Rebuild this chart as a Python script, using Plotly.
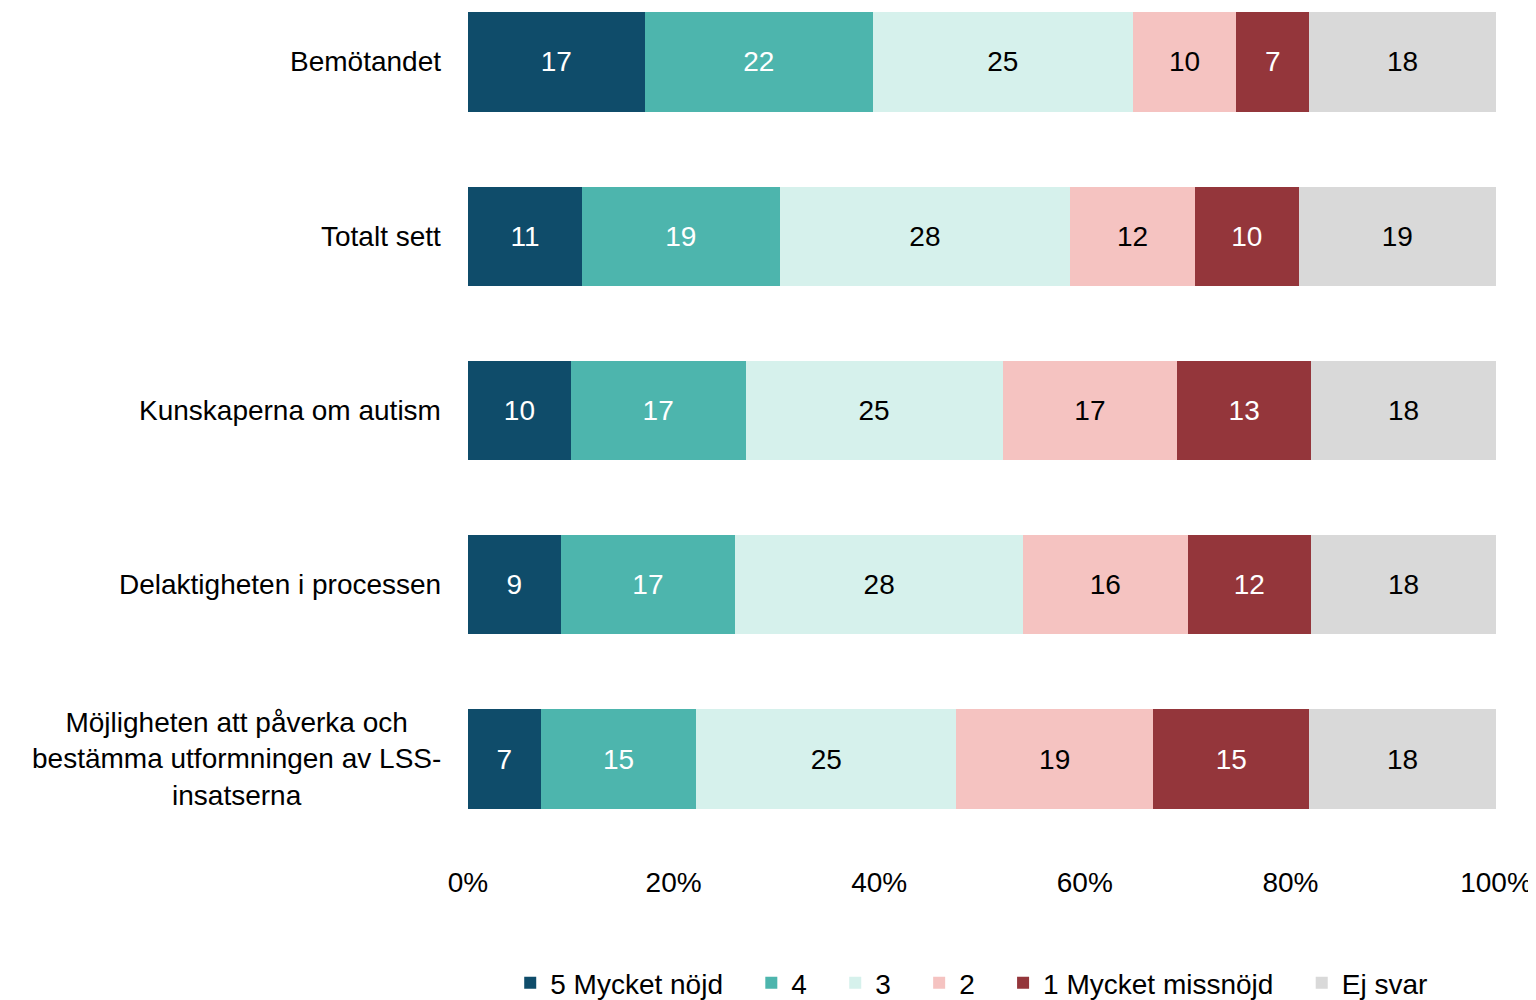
import plotly.graph_objects as go

categories = [
    "Bemötandet",
    "Totalt sett",
    "Kunskaperna om autism",
    "Delaktigheten i processen",
    "Möjligheten att påverka och<br>bestämma utformningen av LSS-<br>insatserna",
]
series_names = ["5 Mycket nöjd", "4", "3", "2", "1 Mycket missnöjd", "Ej svar"]
v5 = [17, 11, 10, 9, 7]
v4 = [22, 19, 17, 17, 15]
v3 = [25, 28, 25, 28, 25]
v2 = [10, 12, 17, 16, 19]
v1 = [7, 10, 13, 12, 15]
vej = [18, 19, 18, 18, 18]
series_values = [v5, v4, v3, v2, v1, vej]
colors = ["#0F4C6A", "#4DB5AD", "#D6F1EC", "#F5C3C1", "#94363B", "#D9D9D9"]
text_colors = ["white", "white", "black", "black", "white", "black"]
tick_vals = [0, 20, 40, 60, 80, 100]
tick_text = ["0%", "20%", "40%", "60%", "80%", "100%"]

FONT = "Liberation Sans, Arial, sans-serif"
FS = 28
PAD = "\u00a0" * 3

fig = go.Figure()
for i, (name, vals, col, tc) in enumerate(zip(series_names, series_values, colors, text_colors)):
    fig.add_trace(go.Bar(
        y=categories, x=vals, name=name + (PAD if i < len(series_names) - 1 else ""),
        orientation="h",
        marker=dict(color=col, line=dict(width=0)),
        text=[str(v) for v in vals], textposition="inside",
        insidetextanchor="middle", textangle=0,
        textfont=dict(color=tc, size=FS, family=FONT),
        width=0.57, hoverinfo="skip",
    ))

for c in categories:
    fig.add_annotation(
        x=-0.024, xref="paper", y=c, yref="y", text=c, showarrow=False,
        xanchor="right", yanchor="middle", align="center",
        font=dict(size=FS, family=FONT, color="black"),
    )

fig.update_layout(
    barmode="stack", barnorm="percent",
    width=1536, height=1000,
    margin=dict(l=460, r=48, t=0, b=148),
    plot_bgcolor="white", paper_bgcolor="white",
    font=dict(family=FONT, size=FS, color="black"),
    showlegend=True,
    legend=dict(orientation="h", x=0.49, xanchor="center", y=-0.1455, yanchor="middle",
                font=dict(size=FS, family=FONT), traceorder="normal",
                itemwidth=30, tracegroupgap=0),
    uniformtext=dict(mode=False),
)
fig.update_xaxes(range=[0, 100], tickvals=tick_vals, ticktext=tick_text,
                 showgrid=False, zeroline=False, showline=False, ticks="",
                 ticklabelstandoff=4,
                 tickfont=dict(size=FS, family=FONT))
fig.update_yaxes(range=[4.573, -0.309], showticklabels=False, showgrid=False,
                 zeroline=False, showline=False, ticks="")

fig.write_html("out.html")
